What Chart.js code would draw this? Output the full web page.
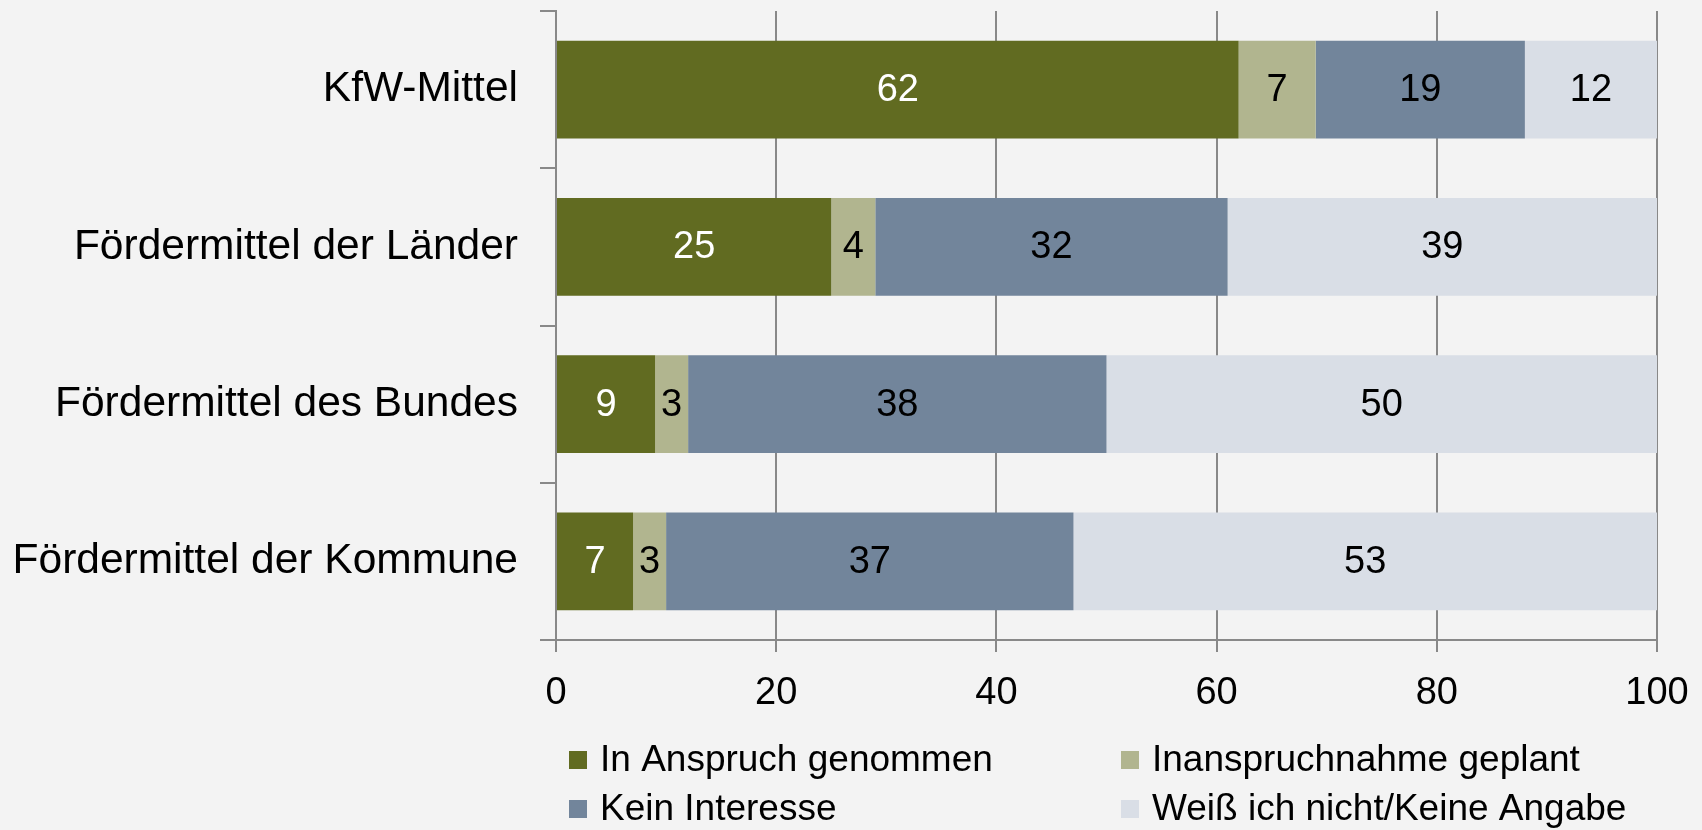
<!DOCTYPE html>
<html>
<head>
<meta charset="utf-8">
<script src="https://cdn.jsdelivr.net/npm/chart.js@4"></script>
<style>
  html, body { margin: 0; padding: 0; background: #f3f3f3; }
  #wrap { width: 1702px; height: 830px; }
</style>
</head>
<body>
<div id="wrap"><canvas id="chart" width="1702" height="830"></canvas></div>
<script>
// data
const categories = ['KfW-Mittel', 'Fördermittel der Länder', 'Fördermittel des Bundes', 'Fördermittel der Kommune'];
const seriesNames = ['In Anspruch genommen', 'Inanspruchnahme geplant', 'Kein Interesse', 'Weiß ich nicht/Keine Angabe'];
const inAnspruch = [62, 25, 9, 7];
const geplant = [7, 4, 3, 3];
const keinInteresse = [19, 32, 38, 37];
const weissNicht = [12, 39, 50, 53];
const xTicks = [0, 20, 40, 60, 80, 100];

const colors = ['#616b21', '#b1b58f', '#72859b', '#d9dee6'];
const labelColors = ['#ffffff', '#000000', '#000000', '#000000'];
const FONT = "'Liberation Sans', Arial, sans-serif";

const valueLabels = {
  id: 'valueLabels',
  afterDatasetsDraw(chart) {
    const c = chart.ctx;
    c.save();
    c.font = '38px ' + FONT;
    c.textAlign = 'center';
    c.textBaseline = 'middle';
    chart.data.datasets.forEach((ds, i) => {
      const meta = chart.getDatasetMeta(i);
      meta.data.forEach((bar, j) => {
        c.fillStyle = labelColors[i];
        c.fillText(ds.data[j], (bar.x + bar.base) / 2, bar.y + 1);
      });
    });
    c.restore();
  }
};

// two column legend like the original
const gridLegend = {
  id: 'gridLegend',
  afterDraw(chart) {
    const c = chart.ctx;
    const cols = [569, 1121];
    const rows = [760, 809];
    c.save();
    c.font = '37px ' + FONT;
    c.textBaseline = 'middle';
    c.textAlign = 'left';
    chart.data.datasets.forEach((ds, i) => {
      const x = cols[i % 2];
      const y = rows[Math.floor(i / 2)];
      c.fillStyle = ds.backgroundColor;
      c.fillRect(x, y - 9, 18, 18);
      c.fillStyle = '#000';
      c.fillText(ds.label, x + 31, y + 1);
    });
    c.restore();
  }
};

const series = [inAnspruch, geplant, keinInteresse, weissNicht];

new Chart(document.getElementById('chart'), {
  type: 'bar',
  data: {
    labels: categories,
    datasets: series.map((d, i) => ({
      label: seriesNames[i],
      data: d,
      backgroundColor: colors[i],
      borderWidth: 0,
      categoryPercentage: 1,
      barPercentage: 0.623
    }))
  },
  options: {
    indexAxis: 'y',
    responsive: false,
    animation: false,
    layout: { padding: { top: 11, right: 45, left: 0, bottom: 0 } },
    plugins: {
      legend: { display: false },
      tooltip: { enabled: false }
    },
    scales: {
      x: {
        stacked: true,
        min: 0,
        max: 100,
        afterBuildTicks: (s) => { s.ticks = xTicks.map(v => ({ value: v })); },
        afterFit: (s) => { s.height = 190; s.paddingLeft = 0; s.paddingRight = 0; },
        grid: { color: '#888888', lineWidth: 2, tickLength: 12 },
        border: { color: '#888888', width: 2 },
        ticks: { color: '#000', padding: 19, font: { family: FONT, size: 38 } }
      },
      y: {
        stacked: true,
        offset: true,
        afterFit: (s) => { s.width = 556; s.paddingTop = 0; s.paddingBottom = 0; },
        grid: { offset: true, drawOnChartArea: false, color: '#888888', lineWidth: 2, tickLength: 16 },
        border: { color: '#888888', width: 2 },
        ticks: { color: '#000', padding: 22, font: { family: FONT, size: 42.5 } }
      }
    }
  },
  plugins: [valueLabels, gridLegend, {
    id: 'bg',
    beforeDraw(chart) {
      const c = chart.ctx;
      c.save();
      c.fillStyle = '#f3f3f3';
      c.fillRect(0, 0, chart.width, chart.height);
      c.restore();
    }
  }]
});
</script>
</body>
</html>
